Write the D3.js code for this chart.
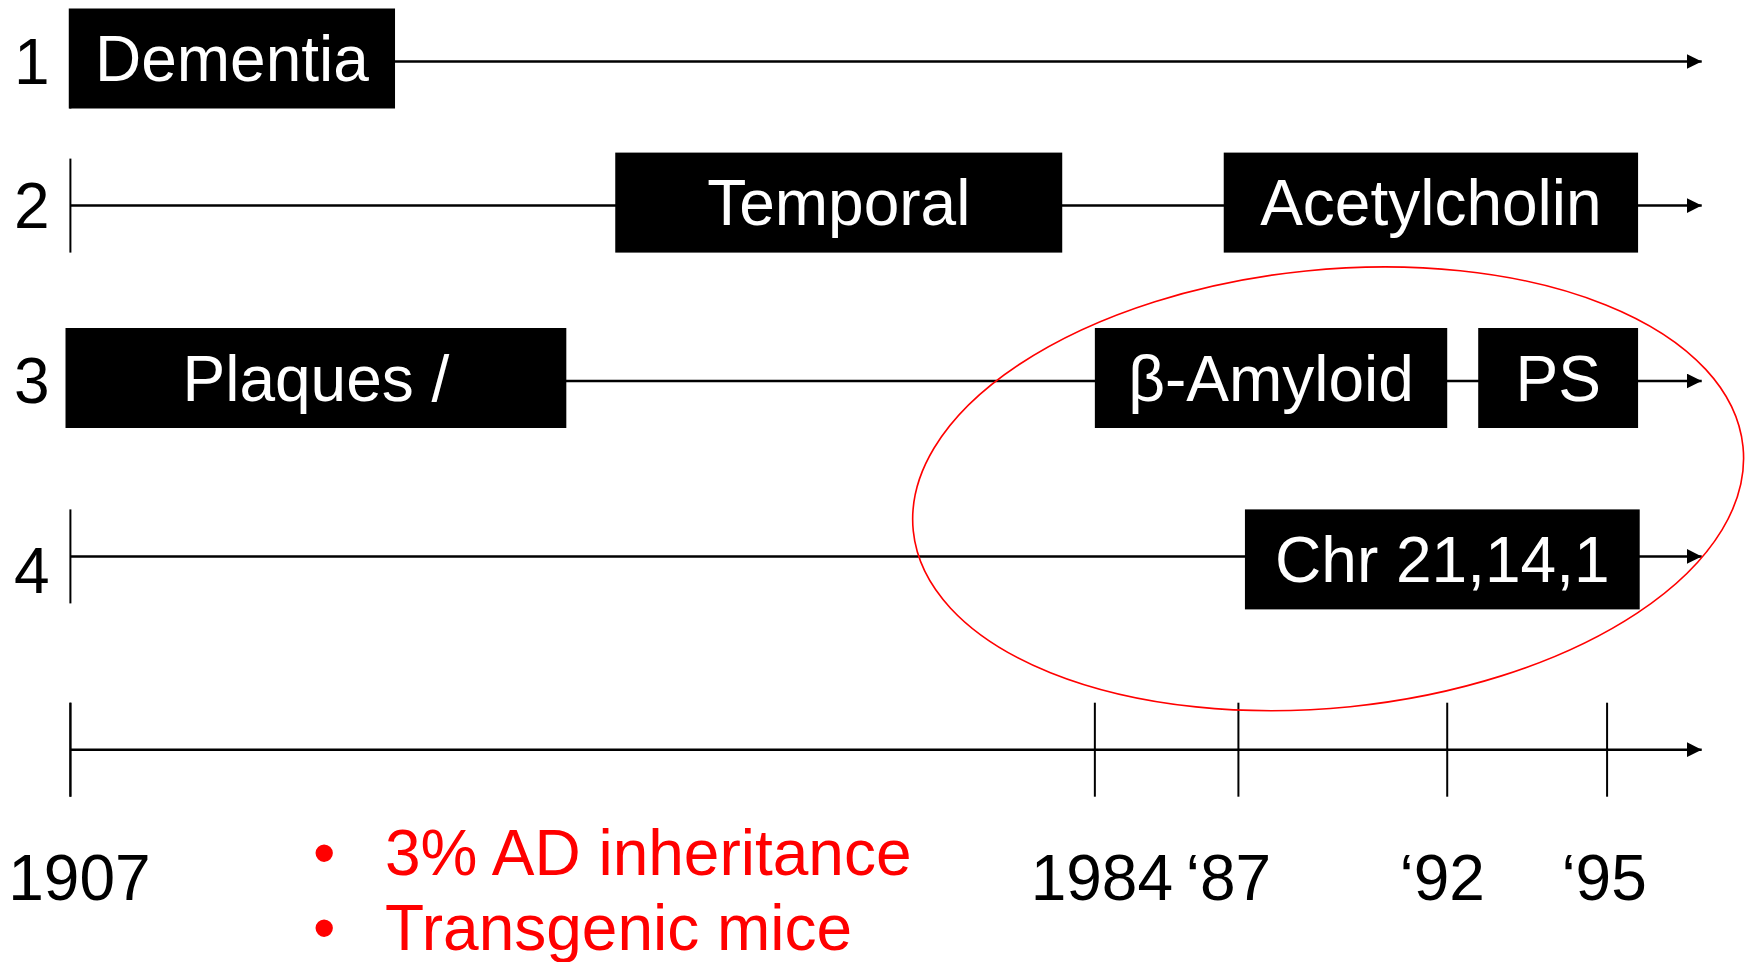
<!DOCTYPE html>
<html><head><meta charset="utf-8">
<script src="https://cdn.jsdelivr.net/npm/d3@7"></script>
<style>html,body{margin:0;padding:0;background:#fff;overflow:hidden}</style>
</head><body><svg id="chart" width="1752" height="962"></svg>
<script>
// ---- data ----
const rowLabels = ["1", "2", "3", "4"];
const eventNames = ["Dementia", "Temporal", "Acetylcholin", "Plaques /", "β-Amyloid", "PS", "Chr 21,14,1"];
const eventRows = [1, 2, 2, 3, 3, 3, 4];
// start / end of each box in timeline units (0 = 1907 origin, 100 = arrow tip)
const eventStart = [-0.1, 33.4, 70.7, -0.3, 62.8, 86.3, 72.0];
const eventEnd = [19.9, 60.8, 96.1, 30.4, 84.4, 96.1, 96.2];
const tickYears = [1907, 1984, 1987, 1992, 1995];
const tickLabels = ["1907", "1984", "\u201887", "\u201892", "\u201895"];
const tickUnits = [0, 62.8, 71.6, 84.4, 94.2];
const bulletNotes = ["3% AD inheritance", "Transgenic mice"];

// ---- layout ----
const W = 1752, H = 962;
const svg = d3.select("#chart");
const x = d3.scaleLinear().domain([0, 100]).range([70.4, 1701.7]);
const yearToUnit = d3.scaleLinear().domain(tickYears).range(tickUnits);
const y = d3.scaleLinear().domain([1, 2, 3, 4, 5]).range([61.5, 205.6, 381, 556.4, 749.7]);
const font = "'Liberation Sans', Arial, sans-serif";
const fs = 64;
const boxH = 100, tickHalf = 47;
const boxShift = [-3, -3, -3, 3];
const labelShift = [0, 0, 0, 15];
const tickLabelShift = [9, 7, -10, -5, -3];

svg.append("defs").append("marker")
  .attr("id", "arr").attr("viewBox", "0 0 10 10").attr("refX", 10).attr("refY", 5)
  .attr("markerWidth", 15).attr("markerHeight", 15).attr("markerUnits", "userSpaceOnUse")
  .attr("orient", "auto")
  .append("path").attr("d", "M0,0 L10,5 L0,10 Z").attr("fill", "#000");

const rows = [1, 2, 3, 4, 5];
// row lines with arrow
svg.selectAll("line.row").data(rows).join("line").attr("class", "row")
  .attr("x1", x(0)).attr("x2", x(100)).attr("y1", d => y(d)).attr("y2", d => y(d))
  .attr("stroke", "#000").attr("stroke-width", 2.5).attr("marker-end", "url(#arr)");
// start ticks of rows
svg.selectAll("line.start").data(rows).join("line").attr("class", "start")
  .attr("x1", x(0)).attr("x2", x(0)).attr("y1", d => y(d) - tickHalf).attr("y2", d => y(d) + tickHalf)
  .attr("stroke", "#000").attr("stroke-width", 2);
// axis ticks
svg.selectAll("line.tick").data(tickYears).join("line").attr("class", "tick")
  .attr("x1", d => x(yearToUnit(d))).attr("x2", d => x(yearToUnit(d)))
  .attr("y1", y(5) - tickHalf).attr("y2", y(5) + tickHalf)
  .attr("stroke", "#000").attr("stroke-width", 2);
svg.selectAll("text.tl").data(tickYears).join("text").attr("class", "tl")
  .attr("x", (d, i) => x(yearToUnit(d)) + tickLabelShift[i]).attr("y", 900)
  .attr("text-anchor", "middle").attr("font-family", font).attr("font-size", fs)
  .text((d, i) => tickLabels[i]);

// row labels
svg.selectAll("text.rl").data(rowLabels).join("text").attr("class", "rl")
  .attr("x", 14).attr("y", (d, i) => y(i + 1) + 22 + labelShift[i])
  .attr("font-family", font).attr("font-size", fs).text(d => d);

// event boxes
const ev = eventNames.map((n, i) => ({ name: n, row: eventRows[i], s: eventStart[i], e: eventEnd[i] }));
const cy = d => y(d.row) + boxShift[d.row - 1];
const g = svg.selectAll("g.ev").data(ev).join("g").attr("class", "ev");
g.append("rect").attr("x", d => x(d.s)).attr("width", d => x(d.e) - x(d.s))
  .attr("y", d => cy(d) - boxH / 2).attr("height", boxH).attr("fill", "#000");
g.append("text").attr("x", d => (x(d.s) + x(d.e)) / 2).attr("y", d => cy(d) + 22.5)
  .attr("text-anchor", "middle").attr("fill", "#fff").attr("font-family", font).attr("font-size", fs)
  .text(d => d.name);

// red ellipse
svg.append("ellipse").attr("cx", 0).attr("cy", 0).attr("rx", 417).attr("ry", 219)
  .attr("transform", `translate(${x(77.1)},${488.8}) rotate(-5.8)`)
  .attr("fill", "none").attr("stroke", "#ff0000").attr("stroke-width", 1.6);

// bullet notes
const nb = svg.selectAll("g.nb").data(bulletNotes).join("g").attr("class", "nb");
nb.append("text").attr("x", 313).attr("y", (d, i) => 875 + i * 75)
  .attr("fill", "#ff0000").attr("font-family", font).attr("font-size", fs).text("•");
nb.append("text").attr("x", 385).attr("y", (d, i) => 875 + i * 75)
  .attr("fill", "#ff0000").attr("font-family", font).attr("font-size", fs).text(d => d);
</script>
</body></html>
